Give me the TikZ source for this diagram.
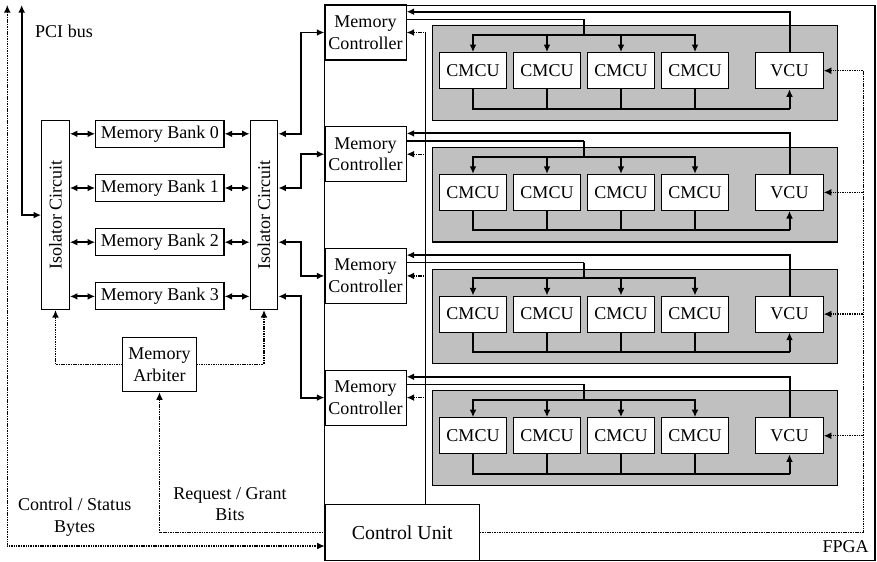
\documentclass[tikz,border=0pt]{standalone}
\usepackage{fontspec}
\setmainfont{Liberation Serif}
\usetikzlibrary{arrows.meta, positioning, calc}
\definecolor{PanelGray}{HTML}{C0C0C0}
\tikzset{
  ubox/.style={draw, line width=0.6pt, fill=white, align=center,
    minimum width=37.4pt, minimum height=20pt, inner sep=1pt},
  mcbox/.style={draw, line width=0.6pt, fill=white, align=center,
    minimum width=45pt, minimum height=30.5pt, inner sep=1pt},
  mbox/.style={draw, line width=0.6pt, fill=white,
    minimum width=71.2pt, minimum height=15pt, inner sep=1pt},
  isobox/.style={draw, line width=0.6pt, fill=white,
    minimum width=15.3pt, minimum height=104.8pt, inner sep=1pt},
  abox/.style={draw, line width=0.6pt, fill=white, align=center,
    minimum width=41.3pt, minimum height=30.2pt, inner sep=1pt},
  cubox/.style={draw, line width=0.6pt, fill=white,
    minimum width=85.5pt, minimum height=31pt, inner sep=1pt,
    font=\fontsize{11}{13}\selectfont},
  panel/.style={draw, line width=0.6pt, fill=PanelGray,
    minimum width=224.8pt, minimum height=52.5pt},
  fpgabox/.style={draw, line width=0.6pt,
    minimum width=305.5pt, minimum height=308pt},
  lbl/.style={align=center, inner sep=0pt},
  trunk/.style={line width=1.1pt},
  wire/.style={line width=0.6pt},
  bus/.style={trunk, -{Latex[length=4.2pt, width=3.8pt]}},
  bbus/.style={trunk, {Latex[length=4.2pt, width=3.8pt]}-{Latex[length=4.2pt, width=3.8pt]}},
  ctlline/.style={line width=0.75pt, dash pattern=on 0.6pt off 0.35pt},
  ctl/.style={ctlline, -{Latex[length=4.2pt, width=3.8pt]}},
  bctl/.style={ctlline, {Latex[length=4.2pt, width=3.8pt]}-{Latex[length=4.2pt, width=3.8pt]}},
}

\begin{document}
\begin{tikzpicture}[x=0.555pt, y=-0.555pt]
  \useasboundingbox (0,0) rectangle (877,562);
  \node[fpgabox] (fpga) at (599.75,283.1) {};
  \node[anchor=base east, inner sep=0pt] (fpgalbl) at (869,552) {FPGA};
  % memory side
  \node[isobox] (isoL) at (55.5,215.1) {\rotatebox{90}{Isolator Circuit}};
  \node[isobox] (isoR) at (264,215.1) {\rotatebox{90}{Isolator Circuit}};
  \foreach \m in {0,...,3}
    \node[mbox] (mb\m) at (159.85,{133.8+54.2*\m}) {Memory Bank \m};
  \node[abox] (arb) at (159.5,364.5) {Memory\\Arbiter};
  \node[cubox] (cu) at (402.3,532.3) {Control Unit};
  \node[lbl] (pcilbl) at (64,31) {PCI bus};
  \node[lbl] (cslbl) at (74.7,517.3) {Control / Status\\Bytes};
  \node[lbl] (rglbl) at (230,504) {Request / Grant\\Bits};

  % fpga rows
  \coordinate (cv) at (425.7,0);
  \coordinate (sv) at (863.3,0);
  \coordinate (jx) at (301,0);
  \foreach \r in {0,...,3}{
    \pgfmathsetmacro\yo{121.7*\r}
    \node[mcbox] (mc\r) at (365.5,{32.5+\yo}) {Memory\\Controller};
    \node[panel] (pan\r) at (634.8,{73+\yo}) {};
    \foreach \k/\xx in {1/473,2/547,3/621,4/695}
      \node[ubox] (cm\r\k) at (\xx,{70.7+\yo}) {CMCU};
    \node[ubox] (vcu\r) at (789.5,{70.7+\yo}) {VCU};
    \coordinate (tl\r) at (0,{11.7+\yo});
    \coordinate (th\r) at (584,{19.3+\yo});
    \coordinate (tap\r) at (584,{35+\yo});
    \coordinate (bb\r) at (789.5,{108.7+\yo});
    \draw[bus] (vcu\r.north) |- (mc\r.east |- tl\r);
    \draw[wire] (mc\r.east |- th\r) -- (th\r);
    \draw[trunk] (th\r) -- (tap\r);
    \foreach \k in {1,...,4}{
      \draw[bus] (tap\r) -| (cm\r\k.north);
      \draw[trunk] (cm\r\k.south) |- (bb\r);
    }
    \draw[bus] (bb\r) -- (vcu\r.south);
    \draw[ctl] (cv |- mc\r.east) -- (mc\r.east);
    \draw[ctl] (sv |- vcu\r.east) -- (vcu\r.east);
  }

  % banks to controllers
  \foreach \m in {0,...,3}{
    \draw[bbus] (isoL.east |- mb\m.west) -- (mb\m.west);
    \draw[bbus] (mb\m.east) -- (isoR.west |- mb\m.east);
    \draw[bbus] (isoR.east |- mb\m.east) -| (jx |- mc\m.west) -- (mc\m.west);
  }

  % control
  \coordinate (pci) at (21.7,5);
  \coordinate (cs) at (7.3,5);
  \coordinate (csy) at (0,546);
  \draw[bbus] (pci) |- (isoL.west);
  \draw[bctl] (cs) |- (cu.west |- csy);
  \draw[ctl] (cu.west) -| (arb.south);
  \draw[ctl] (arb.west) -| (isoL.south);
  \draw[ctl] (arb.east) -| (isoR.south);
  \draw[wire] (cu.north -| cv) -- (cv |- mc0.east);
  \draw[ctlline] (cu.east) -| (sv |- vcu0.east);
\end{tikzpicture}
\end{document}
